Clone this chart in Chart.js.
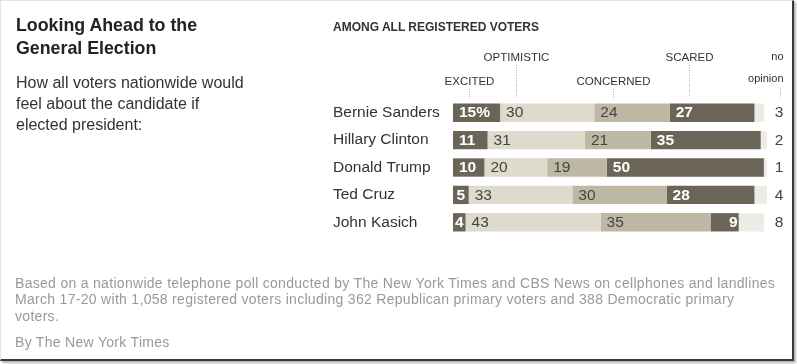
<!DOCTYPE html>
<html>
<head>
<meta charset="utf-8">
<script src="https://cdn.jsdelivr.net/npm/chart.js@4"></script>
<style>
  html, body { margin:0; padding:0; background:#fff; }
  body { width:797px; height:364px; position:relative; overflow:hidden; font-family:"Liberation Sans", Arial, sans-serif; }
  #frame { position:absolute; left:0; top:0; width:791px; height:358px; border-left:1px solid #e4e4e4; border-top:1px solid #e4e4e4; border-right:2px solid #3a3a3a; border-bottom:2px solid #3a3a3a; box-shadow:2px 2px 2px #b5b5b5; }
  canvas { position:absolute; left:0; top:0; }
  .t { position:absolute; white-space:nowrap; }
  #title { left:16px; top:14px; font-weight:bold; font-size:17.8px; line-height:23px; color:#222; }
  #sub { left:16px; top:72px; font-size:16px; line-height:21px; color:#333; }
  #among { left:333px; top:19.5px; font-weight:bold; font-size:12px; line-height:14px; color:#333; }
  #foot { left:15px; top:274.5px; font-size:14px; letter-spacing:0.3px; line-height:16.5px; color:#999; }
  #by { left:15px; top:333.5px; font-size:14px; letter-spacing:0.3px; line-height:16.5px; color:#999; }
</style>
</head>
<body>
<div id="frame"></div>
<canvas id="c" width="797" height="364"></canvas>
<div class="t" id="title">Looking Ahead to the<br>General Election</div>
<div class="t" id="sub">How all voters nationwide would<br>feel about the candidate if<br>elected president:</div>
<div class="t" id="among">AMONG ALL REGISTERED VOTERS</div>
<div class="t" id="foot">Based on a nationwide telephone poll conducted by The New York Times and CBS News on cellphones and landlines<br>March 17-20 with 1,058 registered voters including 362 Republican primary voters and 388 Democratic primary<br>voters.</div>
<div class="t" id="by">By The New York Times</div>
<script>
// ---- data ----
const categories = ['Bernie Sanders', 'Hillary Clinton', 'Donald Trump', 'Ted Cruz', 'John Kasich'];
const excited    = [15, 11, 10, 5, 4];
const optimistic = [30, 31, 20, 33, 43];
const concerned  = [24, 21, 19, 30, 35];
const scared     = [27, 35, 50, 28, 9];
const noOpinion  = [3, 2, 1, 4, 8];
const seriesNames = ['EXCITED', 'OPTIMISTIC', 'CONCERNED', 'SCARED', 'no opinion'];

// ---- styles ----
const DARK = '#6b6558', LIGHT = '#dedbcc', MID = '#bdb8a4', PALE = '#ecebe5';
const FONT = '"Liberation Sans", Arial, sans-serif';
// header label anchors (value units on the x scale) and rows
const headerAnchor = [5.1, 20, 51, 75, 104];
const headerRow = [1, 0, 1, 0, 0];

const series = [
  { label: seriesNames[0], data: excited,    color: DARK,  dark: true },
  { label: seriesNames[1], data: optimistic, color: LIGHT, dark: false },
  { label: seriesNames[2], data: concerned,  color: MID,   dark: false },
  { label: seriesNames[3], data: scared,     color: DARK,  dark: true },
  { label: seriesNames[4], data: noOpinion,  color: PALE,  dark: false, outside: true }
];

const labelPlugin = {
  id: 'labels',
  afterDatasetsDraw(chart) {
    const ctx = chart.ctx;
    const xs = chart.scales.x;
    ctx.save();
    ctx.textBaseline = 'middle';
    chart.data.datasets.forEach((ds, di) => {
      const s = series[di];
      const meta = chart.getDatasetMeta(di);
      meta.data.forEach((bar, i) => {
        const v = ds.data[i];
        let txt = String(v) + (i === 0 && di === 0 ? '%' : '');
        const y = bar.y + 0.5;
        if (s.outside) {
          ctx.font = '15.5px ' + FONT;
          ctx.fillStyle = '#444';
          ctx.textAlign = 'center';
          ctx.fillText(txt, chart.chartArea.right + 12, y);
          return;
        }
        const left = Math.min(bar.x, bar.base), right = Math.max(bar.x, bar.base);
        const w = right - left;
        if (s.dark) {
          ctx.font = 'bold 15.5px ' + FONT;
          ctx.fillStyle = '#fff';
        } else {
          ctx.font = '15.5px ' + FONT;
          ctx.fillStyle = '#444';
        }
        const tw = ctx.measureText(txt).width;
        ctx.textAlign = 'left';
        let x;
        if (s.dark && di > 0 && v < 10) {
          x = right - tw - 1;
        } else {
          x = left + Math.max(0, Math.min(6, (w - tw) / 2));
        }
        ctx.fillText(txt, x, y);
      });
    });
    // column headers with dotted leader lines
    const rowBase = [61, 85];
    const lineBottom = chart.chartArea.top - 1;
    seriesNames.forEach((name, k) => {
      const ax = Math.round(xs.getPixelForValue(headerAnchor[k])) + 0.5;
      ctx.fillStyle = '#333';
      ctx.textBaseline = 'alphabetic';
      let lineTop;
      if (k === 4) {
        ctx.font = '11px ' + FONT;
        ctx.textAlign = 'right';
        const parts = name.split(' ');
        ctx.fillText(parts[0], ax + 3, rowBase[0] - 1);
        ctx.fillText(parts[1], ax + 3, rowBase[1] - 3);
        lineTop = rowBase[1] + 3;
      } else {
        ctx.font = '11.5px ' + FONT;
        ctx.textAlign = 'center';
        ctx.fillText(name, ax, rowBase[headerRow[k]]);
        lineTop = rowBase[headerRow[k]] + 4;
      }
      ctx.strokeStyle = '#aaa';
      ctx.lineWidth = 1;
      ctx.setLineDash([1, 1.5]);
      ctx.beginPath();
      ctx.moveTo(ax, lineTop);
      ctx.lineTo(ax, lineBottom);
      ctx.stroke();
      ctx.setLineDash([]);
    });
    ctx.restore();
  }
};

new Chart(document.getElementById('c'), {
  type: 'bar',
  data: {
    labels: categories,
    datasets: series.map(s => ({
      label: s.label,
      data: s.data,
      backgroundColor: s.color,
      borderWidth: 0,
      categoryPercentage: 1,
      barPercentage: 0.67
    }))
  },
  options: {
    indexAxis: 'y',
    responsive: false,
    animation: false,
    layout: { padding: { left: 333, right: 30, top: 99, bottom: 128 } },
    plugins: { legend: { display: false }, tooltip: { enabled: false } },
    scales: {
      x: { stacked: true, min: 0, max: 100, display: false },
      y: {
        stacked: true,
        grid: { display: false },
        border: { display: false },
        ticks: { crossAlign: 'far', padding: 0, color: '#333', font: { family: FONT, size: 15.5 } },
        afterFit(scale) { scale.width = 120; }
      }
    }
  },
  plugins: [labelPlugin]
});
</script>
</body>
</html>
